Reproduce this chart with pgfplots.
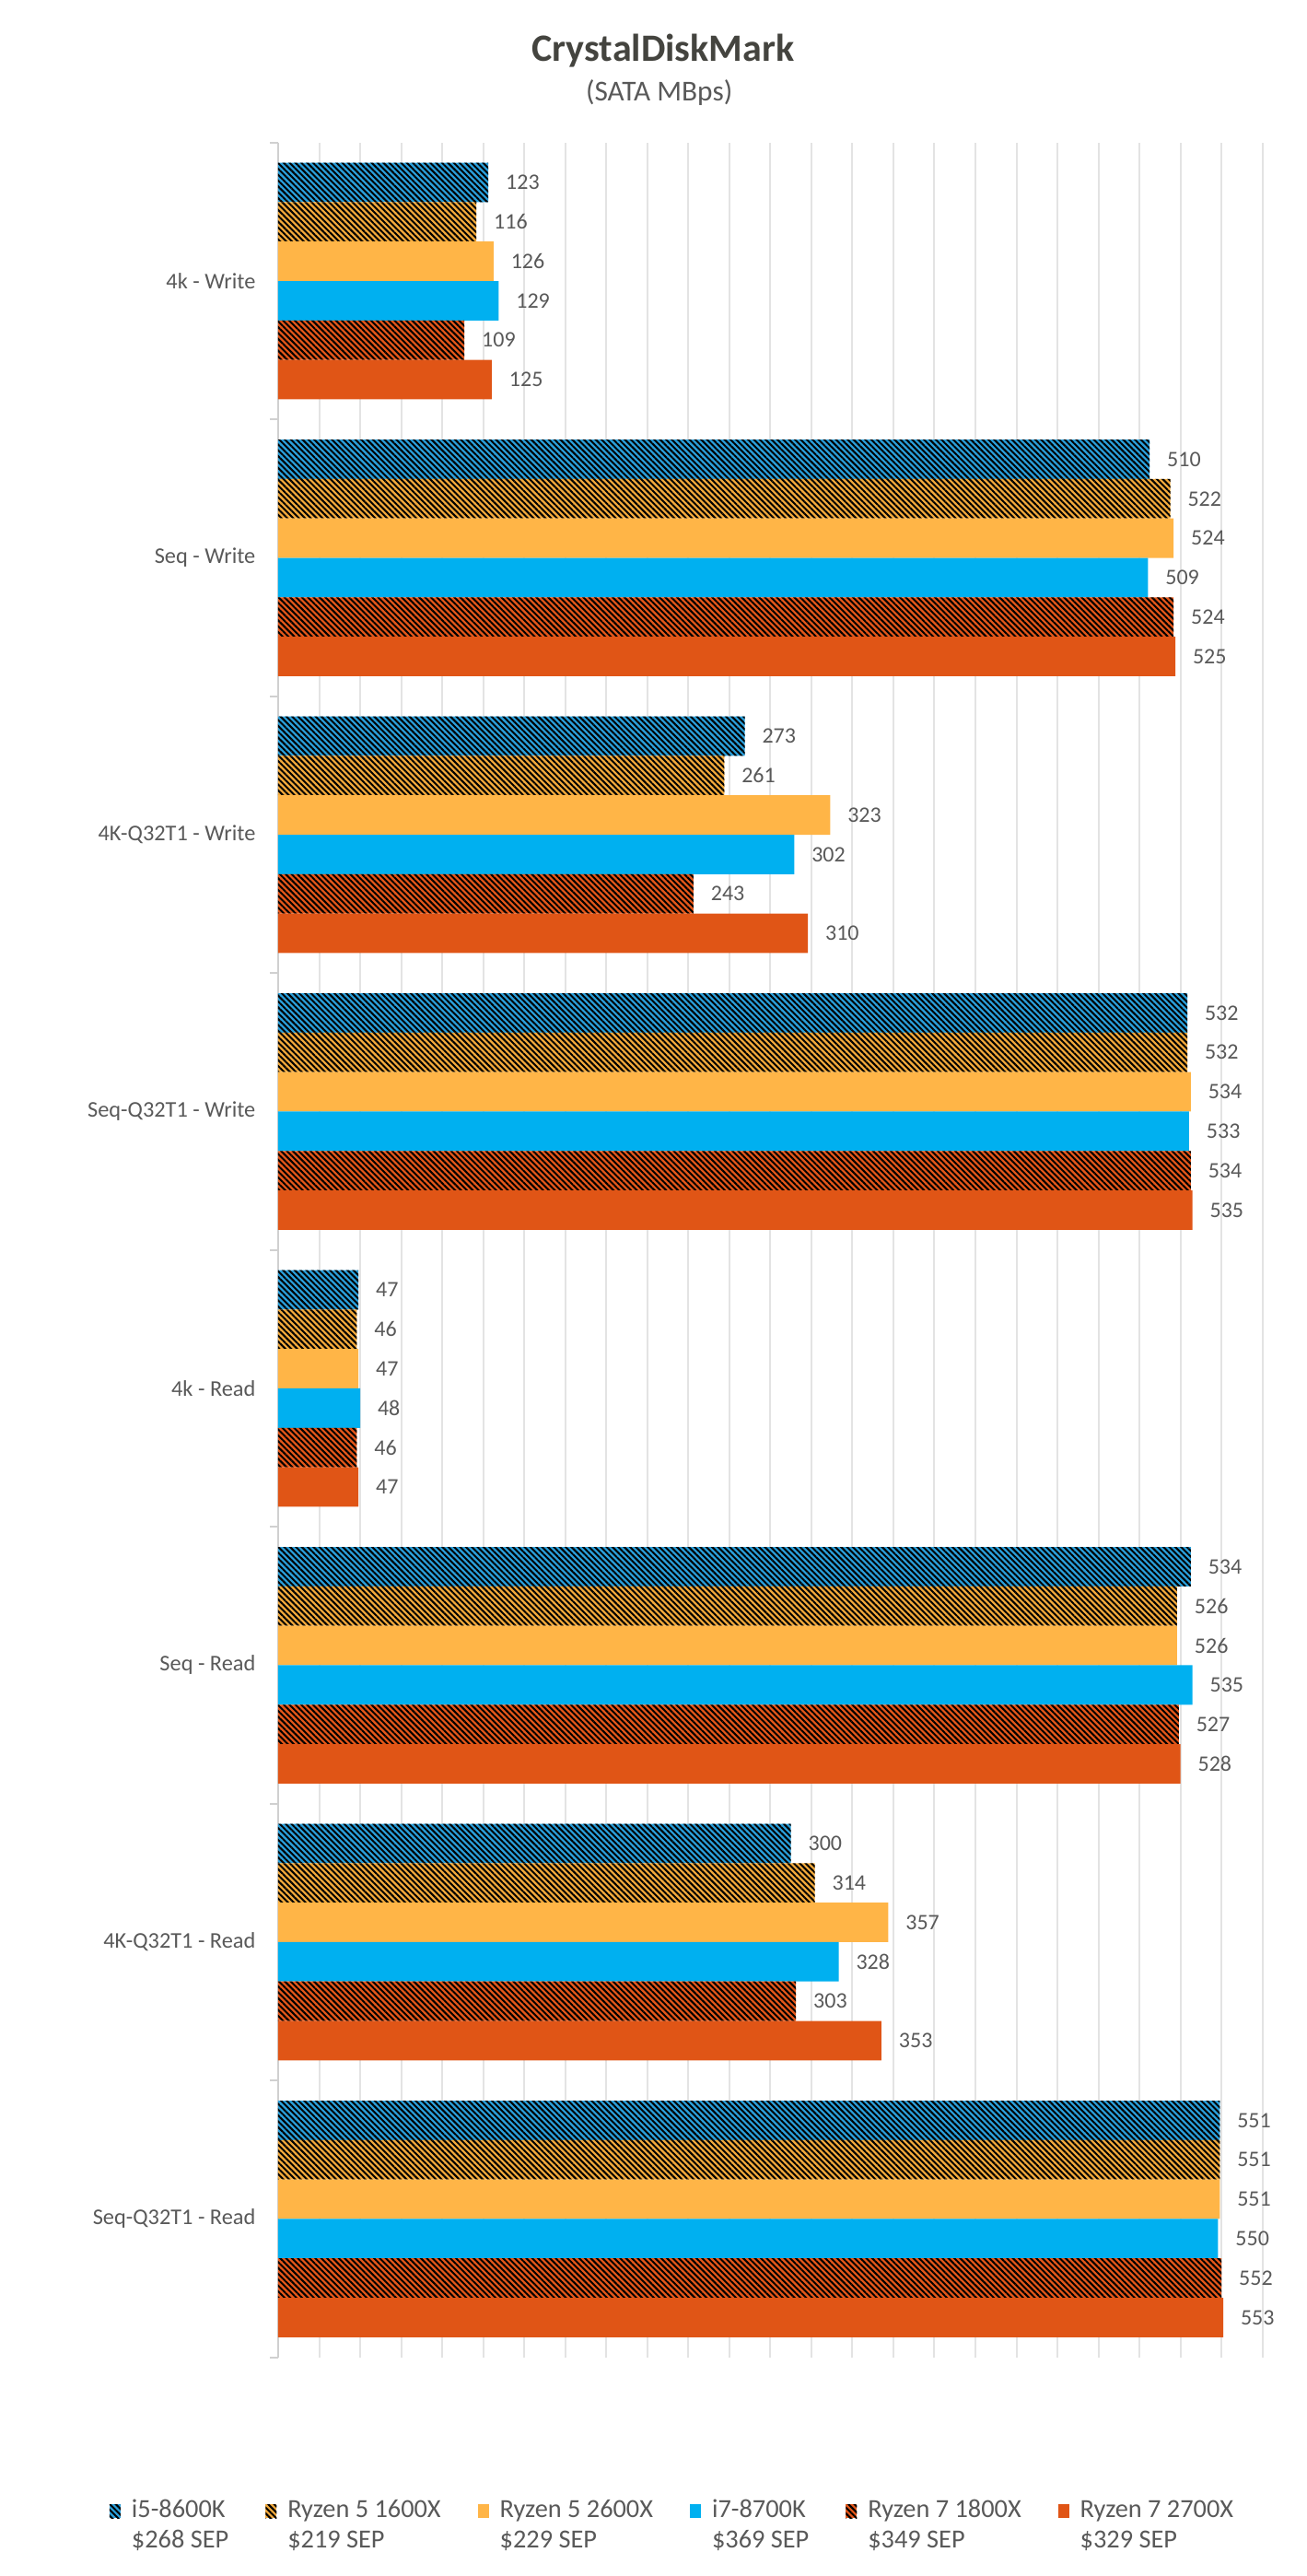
\documentclass[border=0pt]{standalone}
\usepackage{fontspec}
\setmainfont{Carlito}
\usepackage{pgfplots}
\pgfplotsset{compat=1.18}
\usetikzlibrary{patterns.meta}
\definecolor{cBlueH}{HTML}{2A9FDA}
\definecolor{cGoldH}{HTML}{F2A93B}
\definecolor{cGold}{HTML}{FFB547}
\definecolor{cBlue}{HTML}{00B0F0}
\definecolor{cRedH}{HTML}{E4571A}
\definecolor{cRed}{HTML}{E05516}
\definecolor{tgray}{HTML}{595959}
\definecolor{ttitle}{HTML}{44443F}
\definecolor{ggray}{HTML}{E3E3E3}
\definecolor{lgray}{HTML}{D0D0D0}
\tikzset{hatch/.style={postaction={pattern={Lines[angle=-45,distance=1.35pt,line width=0.6pt]},pattern color=black}}}
\pgfplotsset{myleg/.style={legend image code/.code={\path[##1,draw=none] (0pt,9.8pt) rectangle (3.6pt,14.3pt);}}}
\begin{document}
\begin{tikzpicture}
\path[use as bounding box] (-90.6pt,46.425pt) rectangle (335.1pt,-792.375pt);
\begin{axis}[
  at={(0pt,0pt)}, anchor=north west,
  scale only axis, width=320.61pt, height=721.16pt,
  xbar, bar width=12.84pt,
  xmin=0, xmax=576, ymin=-0.5, ymax=7.5, y dir=reverse,
  axis y line*=left, axis x line*=bottom,
  x axis line style={draw=none},
  y axis line style={draw=lgray, line width=0.6pt},
  xtick={0,24,...,576}, xticklabels={},
  xtick style={draw=none},
  xmajorgrids, grid style={draw=ggray, line width=0.6pt},
  ytick={-0.5,0.5,...,7.5}, yticklabels={},
  tick align=outside, major tick length=2.7pt,
  ytick style={draw=lgray, line width=0.6pt},
  extra y ticks={0,1,2,3,4,5,6,7},
  extra y tick labels={4k - Write, Seq - Write, 4K-Q32T1 - Write, Seq-Q32T1 - Write, 4k - Read, Seq - Read, 4K-Q32T1 - Read, Seq-Q32T1 - Read},
  extra y tick style={major tick length=0pt},
  yticklabel style={font=\fontsize{7.3}{8.8}\selectfont, text=tgray, inner sep=0pt, anchor=east, xshift=-7.2pt},
  /pgf/number format/assume math mode=true,
  nodes near coords, nodes near coords align={horizontal},
  nodes near coords style={font=\fontsize{7.2}{8.6}\selectfont, text=tgray, inner sep=0pt, anchor=west, xshift=5.5pt},
  legend columns=6,
  legend cell align=left,
  legend style={draw=none, fill=none, inner sep=0pt, outer sep=0pt,
    font=\fontsize{8.5}{10}\selectfont, text=tgray,
    at={(axis description cs:0.3996,-0.0642)}, anchor=north,
    nodes={inner sep=0pt},
    cells={anchor=base west, align=left},
    column sep=0pt,
    /tikz/every odd column/.append style={column sep=3.6pt},
    /tikz/every even column/.append style={column sep=12pt}},
]
\addplot[myleg, bar shift=32.1pt, fill=cBlueH, draw=none, hatch] coordinates {(123,0) (510,1) (273,2) (532,3) (47,4) (534,5) (300,6) (551,7)};
\addlegendentry{i5-8600K\\\$268 SEP}
\addplot[myleg, bar shift=19.26pt, fill=cGoldH, draw=none, hatch] coordinates {(116,0) (522,1) (261,2) (532,3) (46,4) (526,5) (314,6) (551,7)};
\addlegendentry{Ryzen 5 1600X\\\$219 SEP}
\addplot[myleg, bar shift=6.42pt, fill=cGold, draw=none] coordinates {(126,0) (524,1) (323,2) (534,3) (47,4) (526,5) (357,6) (551,7)};
\addlegendentry{Ryzen 5 2600X\\\$229 SEP}
\addplot[myleg, bar shift=-6.42pt, fill=cBlue, draw=none] coordinates {(129,0) (509,1) (302,2) (533,3) (48,4) (535,5) (328,6) (550,7)};
\addlegendentry{i7-8700K\\\$369 SEP}
\addplot[myleg, bar shift=-19.26pt, fill=cRedH, draw=none, hatch] coordinates {(109,0) (524,1) (243,2) (534,3) (46,4) (527,5) (303,6) (552,7)};
\addlegendentry{Ryzen 7 1800X\\\$349 SEP}
\addplot[myleg, bar shift=-32.1pt, fill=cRed, draw=none] coordinates {(125,0) (525,1) (310,2) (535,3) (47,4) (528,5) (353,6) (553,7)};
\addlegendentry{Ryzen 7 2700X\\\$329 SEP}
\end{axis}
\node[anchor=base, font=\bfseries\fontsize{12.6}{15}\selectfont, text=ttitle] at (125.4pt,26.4pt) {CrystalDiskMark};
\node[anchor=base, font=\fontsize{9.4}{11}\selectfont, text=tgray] at (124.1pt,13.6pt) {(SATA MBps)};
\end{tikzpicture}
\end{document}
